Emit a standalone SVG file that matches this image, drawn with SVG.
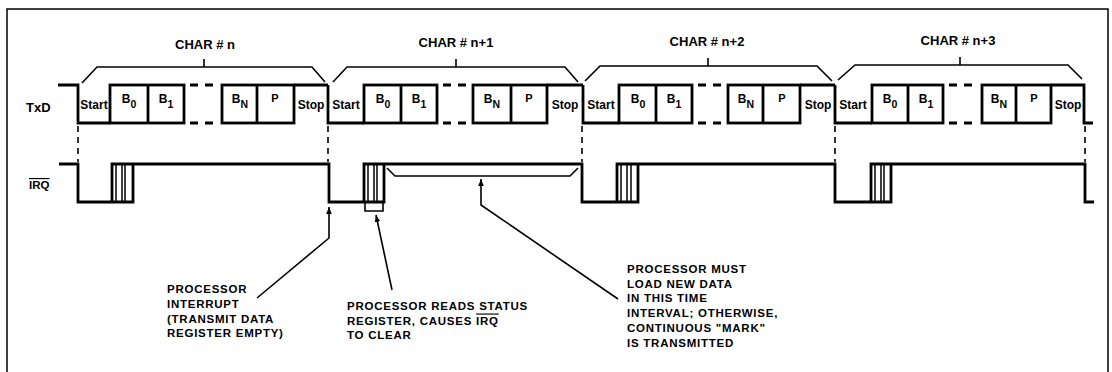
<svg xmlns="http://www.w3.org/2000/svg" width="1112" height="372" viewBox="0 0 1112 372">
<defs>
<style>
.t{font-family:"Liberation Sans",Arial,sans-serif;font-weight:bold;fill:#000}
.sig{fill:none;stroke:#000;stroke-width:2.8;stroke-linejoin:miter}
.thin{fill:none;stroke:#000;stroke-width:1.5}
.dash{fill:none;stroke:#000;stroke-width:2.8;stroke-dasharray:8 7}
.vd{fill:none;stroke:#000;stroke-width:1.6;stroke-dasharray:6 5}
.br{fill:none;stroke:#000;stroke-width:1.6}
.lbl{font-size:13px}
.bit{font-size:12px}
.note{font-size:11.5px;letter-spacing:0.75px}
</style>
<marker id="ah" viewBox="0 0 10 10" refX="10" refY="5" markerWidth="7" markerHeight="7" orient="auto" markerUnits="userSpaceOnUse">
<path d="M0,1 L10,5 L0,9 Z" fill="#000"/>
</marker>
</defs>
<rect width="1112" height="372" fill="#fff"/>
<g id="frame"><path d="M7,372 V9 H1108 V372" class="thin"/></g>

<g id="txd-label"><text x="26" y="112" class="t lbl">TxD</text></g>
<g id="irq-label"><text x="29" y="189" class="t" font-size="11.5" style="text-decoration:overline">IRQ</text></g>

<g id="char-n">
<text x="205" y="49" class="t lbl" text-anchor="middle">CHAR # n</text>
<path class="br" d="M82,83 L97,67 H312 L325,82 M204,59 V67"/>
<path class="sig" d="M58,85 H78 V123 H110"/>
<rect x="110" y="85" width="74" height="38" class="sig"/>
<line x1="148" y1="85" x2="148" y2="123" class="sig"/>
<path class="dash" d="M190,85 H216 M190,123 H216"/>
<rect x="222" y="85" width="72" height="38" class="sig"/>
<line x1="257" y1="85" x2="257" y2="123" class="sig"/>
<path class="sig" d="M294,85 H328"/>
<text x="94" y="109" class="t bit" text-anchor="middle">Start</text>
<text x="129" y="103" class="t bit" text-anchor="middle">B<tspan dy="5" font-size="10.5">0</tspan></text>
<text x="166" y="103" class="t bit" text-anchor="middle">B<tspan dy="5" font-size="10.5">1</tspan></text>
<text x="240" y="103" class="t bit" text-anchor="middle">B<tspan dy="5" font-size="10.5">N</tspan></text>
<text x="275" y="102" class="t" font-size="11" text-anchor="middle">P</text>
<text x="311" y="109" class="t bit" text-anchor="middle">Stop</text>
</g>

<g id="char-n1">
<text x="456" y="47" class="t lbl" text-anchor="middle">CHAR # n+1</text>
<path class="br" d="M333,82 L347,67 H565 L578,82 M456,59 V67"/>
<path class="sig" d="M328,85 V123 H364"/>
<rect x="364" y="85" width="73" height="38" class="sig"/>
<line x1="401" y1="85" x2="401" y2="123" class="sig"/>
<path class="dash" d="M443,85 H467 M443,123 H467"/>
<rect x="473" y="85" width="74" height="38" class="sig"/>
<line x1="511" y1="85" x2="511" y2="123" class="sig"/>
<path class="sig" d="M547,85 H583"/>
<text x="346" y="109" class="t bit" text-anchor="middle">Start</text>
<text x="383" y="103" class="t bit" text-anchor="middle">B<tspan dy="5" font-size="10.5">0</tspan></text>
<text x="419" y="103" class="t bit" text-anchor="middle">B<tspan dy="5" font-size="10.5">1</tspan></text>
<text x="492" y="103" class="t bit" text-anchor="middle">B<tspan dy="5" font-size="10.5">N</tspan></text>
<text x="529" y="102" class="t" font-size="11" text-anchor="middle">P</text>
<text x="565" y="109" class="t bit" text-anchor="middle">Stop</text>
</g>

<g id="char-n2">
<text x="707" y="46" class="t lbl" text-anchor="middle">CHAR # n+2</text>
<path class="br" d="M585,81 L600,66 H817 L832,81 M708,58 V66"/>
<path class="sig" d="M583,85 V123 H619"/>
<rect x="619" y="85" width="73" height="38" class="sig"/>
<line x1="656" y1="85" x2="656" y2="123" class="sig"/>
<path class="dash" d="M698,85 H722 M698,123 H722"/>
<rect x="728" y="85" width="72" height="38" class="sig"/>
<line x1="763" y1="85" x2="763" y2="123" class="sig"/>
<path class="sig" d="M800,85 H835"/>
<text x="601" y="109" class="t bit" text-anchor="middle">Start</text>
<text x="638" y="103" class="t bit" text-anchor="middle">B<tspan dy="5" font-size="10.5">0</tspan></text>
<text x="674" y="103" class="t bit" text-anchor="middle">B<tspan dy="5" font-size="10.5">1</tspan></text>
<text x="746" y="103" class="t bit" text-anchor="middle">B<tspan dy="5" font-size="10.5">N</tspan></text>
<text x="782" y="102" class="t" font-size="11" text-anchor="middle">P</text>
<text x="818" y="109" class="t bit" text-anchor="middle">Stop</text>
</g>

<g id="char-n3">
<text x="958" y="45" class="t lbl" text-anchor="middle">CHAR # n+3</text>
<path class="br" d="M838,80 L855,65 H1068 L1082,79 M960,57 V65"/>
<path class="sig" d="M835,85 V123 H872"/>
<rect x="872" y="85" width="71" height="38" class="sig"/>
<line x1="908" y1="85" x2="908" y2="123" class="sig"/>
<path class="dash" d="M949,85 H976 M949,123 H976"/>
<rect x="982" y="85" width="69" height="38" class="sig"/>
<line x1="1016" y1="85" x2="1016" y2="123" class="sig"/>
<path class="sig" d="M1051,85 H1084 V123 H1093"/>
<text x="853" y="109" class="t bit" text-anchor="middle">Start</text>
<text x="890" y="103" class="t bit" text-anchor="middle">B<tspan dy="5" font-size="10.5">0</tspan></text>
<text x="926" y="103" class="t bit" text-anchor="middle">B<tspan dy="5" font-size="10.5">1</tspan></text>
<text x="999" y="103" class="t bit" text-anchor="middle">B<tspan dy="5" font-size="10.5">N</tspan></text>
<text x="1034" y="102" class="t" font-size="11" text-anchor="middle">P</text>
<text x="1068" y="109" class="t bit" text-anchor="middle">Stop</text>
</g>

<g id="irq-wave">
<path class="sig" d="M59,164 H78 V202 H133 V164 M112,202 V164 H329 V202 H384 V164 M364,202 V164 H582 V202 H638 V164 M617,202 V164 H835 V202 H891 V164 M871,202 V164 H1085 V202 H1094"/>
<path class="thin" d="M116,164 V202 M122,164 V202 M125,164 V202 M368,164 V202 M374,164 V202 M377,164 V202 M621,164 V202 M627,164 V202 M631,164 V202 M875,164 V202 M881,164 V202 M884,164 V202"/>
</g>

<g id="guides">
<path class="vd" d="M78,126 V162 M328,126 V162 M582,126 V162 M835,126 V162 M1085,126 V162"/>
</g>

<g id="interval-bracket"><path class="br" d="M387,168 L395,176 H570 L578,168"/></g>
<g id="read-bracket"><path class="br" d="M365,203 V211 H383 V203"/></g>

<g id="connectors">
<path class="br" d="M257,298 L329,238 V207" marker-end="url(#ah)"/>
<path class="br" d="M392,290 L376,215" marker-end="url(#ah)"/>
<path class="br" d="M618,299 L481,205 V179" marker-end="url(#ah)"/>
</g>

<g id="note-interrupt">
<text class="t note" x="167" y="293">PROCESSOR</text>
<text class="t note" x="167" y="308">INTERRUPT</text>
<text class="t note" x="167" y="322.5">(TRANSMIT DATA</text>
<text class="t note" x="167" y="337">REGISTER EMPTY)</text>
</g>

<g id="note-read">
<text class="t note" x="347" y="310">PROCESSOR READS STATUS</text>
<text class="t note" x="347" y="324.5">REGISTER, CAUSES <tspan style="text-decoration:overline">IRQ</tspan></text>
<text class="t note" x="347" y="339">TO CLEAR</text>
</g>

<g id="note-load">
<text class="t note" x="627" y="273">PROCESSOR MUST</text>
<text class="t note" x="627" y="287.7">LOAD NEW DATA</text>
<text class="t note" x="627" y="302.4">IN THIS TIME</text>
<text class="t note" x="627" y="317.1">INTERVAL; OTHERWISE,</text>
<text class="t note" x="627" y="331.8">CONTINUOUS "MARK"</text>
<text class="t note" x="627" y="346.5">IS TRANSMITTED</text>
</g>
</svg>
